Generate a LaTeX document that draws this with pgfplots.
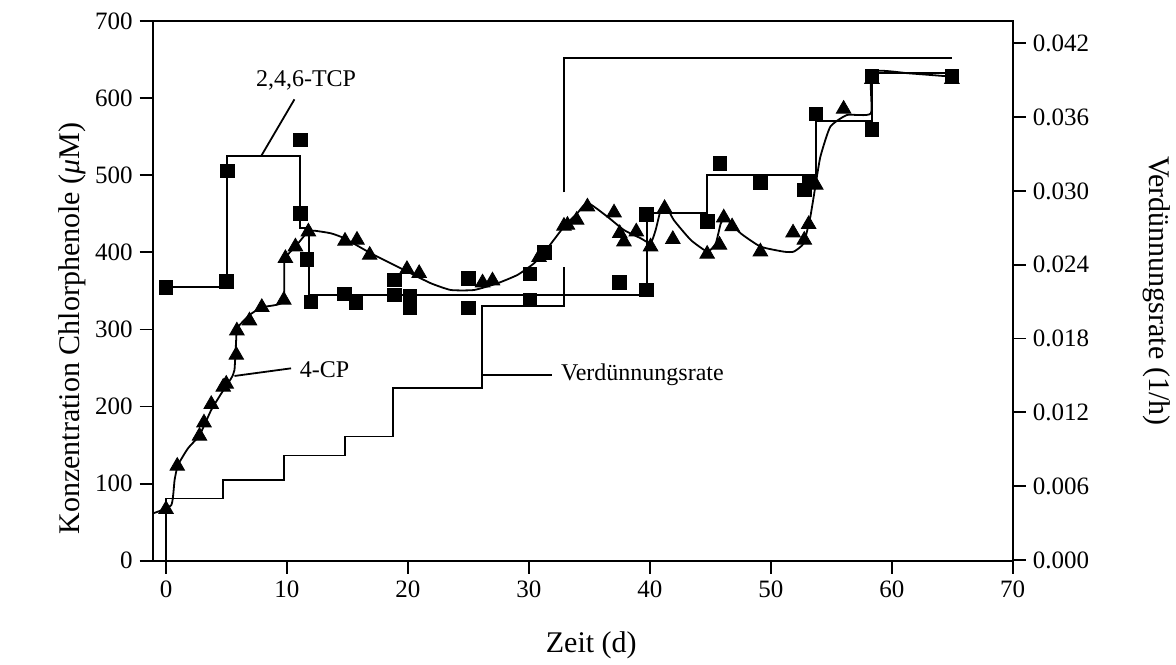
\documentclass[border=0pt]{standalone}
\usepackage{pgfplots}
\pgfplotsset{compat=1.18}
\usepackage{fontspec}
\setmainfont{Liberation Serif}

\begin{document}
\begin{tikzpicture}
\pgfplotsset{
  common/.style={
    scale only axis, width=430pt, height=269.85pt,
    xmin=-1.1, xmax=70,
    tick align=outside, major tick length=6.5pt,
    tick style={black, line width=0.9pt},
    axis line style={line width=0.9pt},
    /pgf/number format/assume math mode=true,
    ticklabel style={font=\fontsize{12.5}{14}\selectfont},
    label style={font=\fontsize{15}{17}\selectfont},
  }
}
\begin{axis}[common, name=main,
  ymin=0, ymax=700,
  xtick={0,10,20,30,40,50,60,70},
  ytick={0,100,200,300,400,500,600,700},
  xtick pos=bottom, ytick pos=left,
  xlabel={Zeit (d)},
  ylabel={Konzentration Chlorphenole (\textit{μ}M)},
  xlabel style={at={(axis description cs:0.51,-0.156)}, anchor=center},
  ylabel style={at={(axis description cs:-0.093,0.43)}, anchor=center},
]
% 2,4,6-TCP step line
\addplot[black, line width=0.9pt] coordinates {
 (0,355.4) (5.05,355.4) (5.05,524.9) (11.09,524.9) (11.09,431.1) (11.85,431.1)
 (11.85,344.6) (39.78,344.6) (39.78,450.6) (44.74,450.6) (44.74,500.3)
 (53.77,500.3) (53.77,570.7) (58.36,570.7) (58.36,632.2) (64.97,632.2)};
% 4-CP curve
\addplot[black, line width=0.9pt, smooth, tension=0.3] coordinates {
 (-1.05,61.5) (0.44,72.2) (0.71,104.7) (0.99,124.1) (1.82,145.8) (2.78,163)
 (3.74,195.5) (4.84,223.6) (5.39,236.6) (5.66,247.3) (5.80,286.3) (5.86,301.4)
 (6.22,307.9) (6.90,318.7) (7.92,328.7) (9.70,336) (9.80,390) (10.70,407.3)
 (11.73,426.7) (12.27,428) (13.64,424.6) (14.74,418.2) (16.94,398.7) (19.97,374.8)
 (21.90,359.8) (23.55,351.1) (25.47,351.1) (27.40,359.8) (29.05,370.6) (30.42,385.7)
 (31.53,405.2) (32.9,433.2) (34.0,450.6) (34.84,464.3) (36.49,446.2) (37.86,428.9)
 (39.24,418.2) (40.06,411.7) (40.48,428.9) (40.89,454.9) (41.22,463.5) (41.98,441.9)
 (43.39,415.9) (44.77,400.8) (45.45,411.7) (45.87,437.6) (46.28,444.1) (47.51,424.6)
 (49.16,407.3) (51.09,400.8) (51.89,400.8) (52.72,411.7) (53.27,446.2) (53.68,485.1)
 (54.1,524) (54.92,562.9) (56.3,578.1) (58.28,580.3) (58.36,634) (61.5,632) (64.97,627.8)};
% squares: 2,4,6-TCP
\addplot[only marks, mark=square*, mark size=3.4pt, black] coordinates {
 (0,354.6) (4.98,361.9) (5.06,505.8) (11.09,545.6) (11.09,450.6) (11.66,390.9)
 (11.99,335.9) (14.74,345.9) (15.71,334.6) (18.87,364.1) (18.87,344.6) (20.17,343.3)
 (20.17,328.1) (25.01,365.8) (25.01,328.1) (30.07,371.9) (30.07,338.1) (31.26,399.5)
 (37.5,360.6) (39.73,449.3) (39.73,351.1) (44.74,439.7) (45.78,515.4) (49.14,490.5)
 (52.77,480.8) (53.21,491.6) (53.74,579.4) (58.36,559.5) (58.36,628.7) (64.97,628.7)};
% triangles: 4-CP
\addplot[only marks, mark=triangle*, mark size=4.2pt, black] coordinates {
 (0,66.7) (0.93,122.8) (2.77,161.7) (3.14,179) (3.74,202.9) (4.73,225.3) (4.98,229.2)
 (5.81,266.8) (5.86,298.3) (6.90,311.3) (7.92,328.7) (9.74,338.1) (9.87,392.2)
 (10.70,407.3) (11.77,426.7) (14.80,414.7) (15.79,416) (16.84,396.5) (19.92,378)
 (20.93,372.8) (26.17,360.6) (26.99,363.2) (30.84,393.5) (32.9,434.1) (33.19,435.4)
 (33.95,441.9) (34.84,459.1) (37.04,451.4) (37.51,424.6) (37.86,413.7) (38.88,426.7)
 (40.06,407.3) (41.22,457.1) (41.9,416.9) (44.74,397.8) (45.76,409.5) (46.11,444.9)
 (46.8,433.3) (49.14,400.8) (51.84,425.4) (52.77,416) (53.13,436.3) (53.72,487.3)
 (56.02,585.9) (58.36,624.4) (64.97,624.4)};
% label connectors
\addplot[black, line width=0.9pt] coordinates {(7.87,524.9) (10.62,598.4)};
\addplot[black, line width=0.9pt] coordinates {(5.66,239.6) (10.34,249.5)};
\node[font=\fontsize{12}{14}\selectfont, anchor=center] at (axis cs:11.58,623.6) {2,4,6-TCP};
\node[font=\fontsize{12}{14}\selectfont, anchor=west, inner sep=0pt] at (axis cs:11.03,248) {4-CP};
\end{axis}

\begin{axis}[common,
  ymin=-0.00006, ymax=0.04382,
  axis x line=none, axis y line*=right,
  ytick={0,0.006,0.012,0.018,0.024,0.030,0.036,0.042},
  scaled y ticks=false,
  yticklabel style={/pgf/number format/.cd, fixed, fixed zerofill, precision=3},
  ylabel={Verdünnungsrate (1/h)},
  ylabel style={at={(axis description cs:1.167,0.5)}, anchor=center, rotate=180},
  unbounded coords=jump,
]
\addplot[black, line width=0.9pt] coordinates {
 (0,0) (0,0.00499) (4.71,0.00499) (4.71,0.00647) (9.74,0.00647) (9.74,0.0085)
 (14.80,0.0085) (14.80,0.01004) (18.74,0.01004) (18.74,0.01399) (26.11,0.01399)
 (26.11,0.02066) (32.90,0.02066) (32.90,0.0238) (32.90,nan) (32.90,0.02988)
 (32.90,0.04082) (64.97,0.04082)};
\addplot[black, line width=0.9pt] coordinates {(26.11,0.01504) (31.89,0.01504)};
\node[font=\fontsize{12}{14}\selectfont, anchor=west, inner sep=0pt] at (axis cs:32.63,0.01504) {Verdünnungsrate};
\end{axis}

\pgfresetboundingbox
\path[use as bounding box] ([xshift=-76.35pt,yshift=-51.65pt]main.south west) rectangle ([xshift=81.65pt,yshift=10.5pt]main.north east);
\end{tikzpicture}
\end{document}
